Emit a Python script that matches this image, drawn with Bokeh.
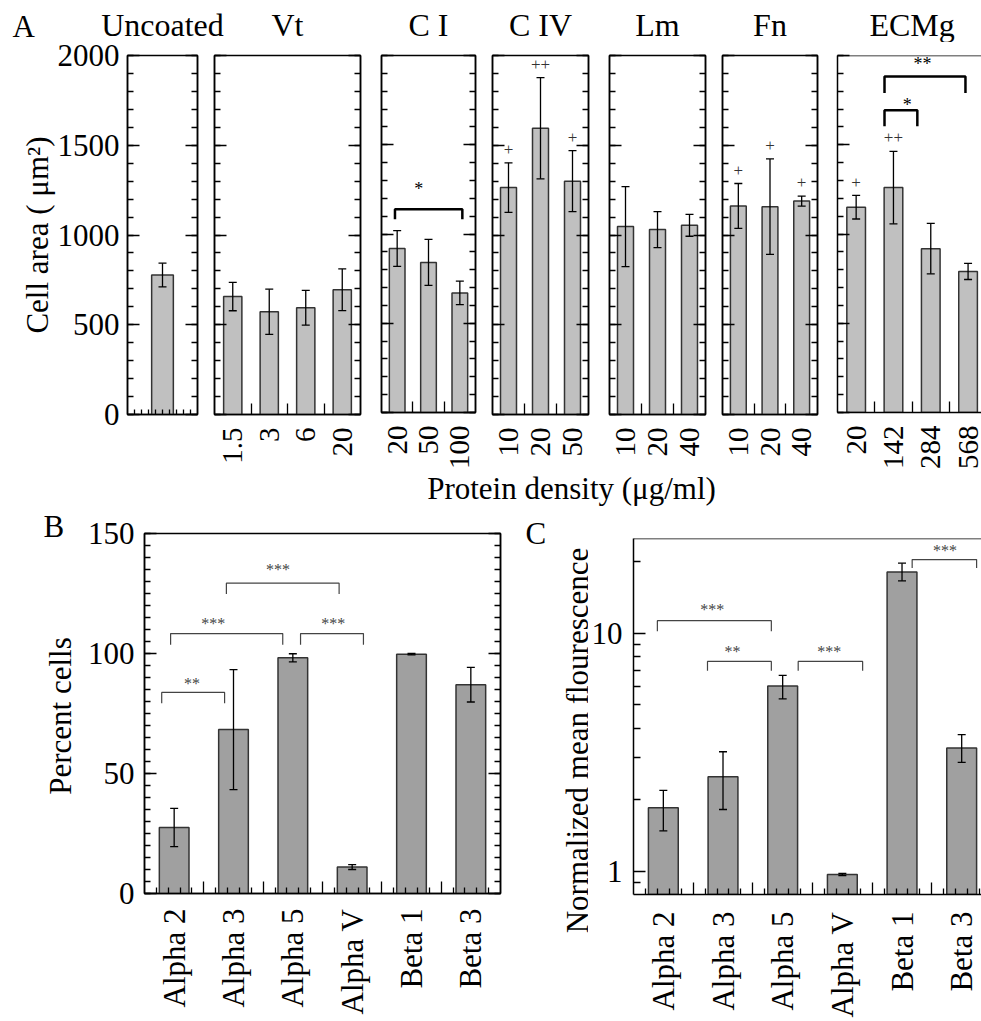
import math

from bokeh.core.properties import value
from bokeh.embed import file_html
from bokeh.layouts import column, row
from bokeh.models import (BasicTickFormatter, ColumnDataSource, CustomJSTickFormatter,
                          FixedTicker, LinearAxis, LogAxis, Range1d,
                          SingleIntervalTicker, Span, TeeHead, Whisker)
from bokeh.plotting import figure
from bokeh.resources import INLINE

FONT = "Liberation Serif"

# ---------------- Panel A: cell area on each coating ----------------
coatings = ["Uncoated", "Vt", "C I", "C IV", "Lm", "Fn", "ECMg"]

uncoated_area = [777]
uncoated_err = [66]

vt_labels = ["1.5", "3", "6", "20"]
vt_area = [657, 572, 595, 695]
vt_err = [79, 126, 97, 116]

ci_labels = ["20", "50", "100"]
ci_area = [919, 841, 670]
ci_err = [100, 129, 66]

civ_labels = ["10", "20", "50"]
civ_area = [1264, 1595, 1300]
civ_err = [138, 282, 170]
civ_marks = ["+", "++", "+"]

lm_labels = ["10", "20", "40"]
lm_area = [1047, 1030, 1054]
lm_err = [223, 100, 61]

fn_labels = ["10", "20", "40"]
fn_area = [1162, 1158, 1189]
fn_err = [125, 266, 28]
fn_marks = ["+", "+", "+"]

ecm_labels = ["20", "142", "284", "568"]
ecm_area = [1150, 1260, 918, 790]
ecm_err = [66, 203, 141, 45]
ecm_marks = ["+", "++", "", ""]

# ---------------- Panels B and C: integrin expression ----------------
integrins = ["Alpha 2", "Alpha 3", "Alpha 5", "Alpha V", "Beta 1", "Beta 3"]
percent_cells = [27.5, 68.3, 98.2, 11.0, 99.7, 87.0]
percent_err = [8.0, 25.0, 1.7, 1.0, 0.3, 7.2]

fluor_mean = [1.85, 2.5, 6.0, 0.97, 18.1, 3.3]
fluor_low = [1.48, 1.82, 5.3, 0.96, 16.6, 2.87]
fluor_high = [2.19, 3.18, 6.66, 0.98, 19.7, 3.75]

# significance brackets: (x start, x end, bar height, end height, text, text x, text y)
ci_brackets = [(-0.07, 2.08, 1139, 1083, "*", 0.69, 1250)]
ecm_brackets = [(0.76, 1.64, 1693, 1604, "*", 1.37, 1721),
                (0.76, 2.93, 1883, 1790, "**", 1.78, 1950)]
b_brackets = [(0.29, 1.35, 83.8, 79.3, "**", 0.80, 87.5),
              (0.44, 2.33, 108.3, 103.6, "***", 1.16, 112.5),
              (2.63, 3.69, 108.3, 103.6, "***", 3.18, 112.5),
              (1.38, 3.28, 129.3, 124.8, "***", 2.25, 135.0)]
c_brackets = [(0.40, 2.31, 11.3, 10.2, "***", 1.32, 12.6),
              (1.24, 2.31, 7.62, 6.96, "**", 1.66, 8.4),
              (2.76, 3.84, 7.62, 6.96, "***", 3.28, 8.4),
              (4.67, 5.75, 20.4, 18.8, "***", 5.22, 22.3)]

BLANK = CustomJSTickFormatter(code="return '';")
UPRIGHT = math.pi / 2


def base_figure(width, height, x_range, y_range, left, right, top, bottom, **kw):
    p = figure(width=width, height=height, x_range=x_range, y_range=y_range,
               x_axis_location=None, y_axis_location=None, toolbar_location=None,
               output_backend="svg", title=None, frame_align=False,
               min_border_left=left, min_border_right=right,
               min_border_top=top, min_border_bottom=bottom, **kw)
    p.grid.grid_line_color = None
    p.outline_line_color = "black"
    p.outline_line_width = 1.5
    p.background_fill_color = "white"
    p.border_fill_color = "white"
    return p


def text_strip(width, height):
    """A blank figure whose data units are pixels, used for free-standing texts."""
    p = figure(width=width, height=height, x_range=Range1d(0, width),
               y_range=Range1d(0, height), x_axis_location=None, y_axis_location=None,
               toolbar_location=None, output_backend="svg", title=None, min_border=0,
               frame_align=False)
    p.grid.grid_line_color = None
    p.outline_line_color = None
    p.background_fill_color = "white"
    p.border_fill_color = "white"
    return p


def put_text(p, xs, ys, texts, size="31px", align="left", angle=0.0):
    p.text(x=xs, y=ys, text=texts, angle=angle, text_font=value(FONT),
           text_font_size=size, text_align=align, text_baseline="middle",
           text_color="black")


def tick_axis(cls, ticker, major_in, minor_in, labels=False, size="31px", standoff=8,
              formatter=None, orientation="horizontal", line=True):
    ax = cls(ticker=ticker, major_tick_in=major_in, major_tick_out=0,
             minor_tick_in=minor_in, minor_tick_out=0,
             major_tick_line_width=1.3, minor_tick_line_width=1.3,
             major_tick_line_color="black" if major_in else None,
             minor_tick_line_color="black" if minor_in else None,
             axis_line_width=1.5, axis_line_color="black" if line else None,
             major_label_orientation=orientation)
    if labels:
        if formatter is not None:
            ax.formatter = formatter
        ax.major_label_text_font = FONT
        ax.major_label_text_font_size = size
        ax.major_label_text_color = "black"
        ax.major_label_standoff = standoff
    else:
        ax.formatter = BLANK
        ax.major_label_text_font_size = "1px"
        ax.major_label_standoff = 0
    return ax


def draw_brackets(p, brackets, width, color, size):
    for x0, x1, ytop, yend, txt, tx, ty in brackets:
        p.multi_line(xs=[[x0, x0, x1, x1]], ys=[[yend, ytop, ytop, yend]],
                     line_color=color, line_width=width)
        p.text(x=[tx], y=[ty], text=[txt], text_font=value(FONT), text_font_size=size,
               text_align="center", text_baseline="middle", text_color=color)


def error_bars(p, src, lower, upper):
    p.add_layout(Whisker(source=src, base="x", lower=lower, upper=upper,
                         line_color="black", line_width=1.3, level="annotation",
                         upper_head=TeeHead(size=8, line_width=1.3, line_color="black"),
                         lower_head=TeeHead(size=8, line_width=1.3, line_color="black")))


HEAD_H = 42
ROW_A_H = 430
FOOT_H = 36
ROW_B_H = 512


def area_panel(labels, area, err, width, left, right, marks=None, brackets=(),
               x_end=None, first=False, bar_width=0.5, cut_right=False):
    n = len(area)
    xs = list(range(n))
    end = x_end if x_end else n - 0.5
    p = base_figure(width, ROW_A_H, Range1d(-0.5, end), Range1d(0, 2000),
                    left, right, 13, 58)

    y_ticker = SingleIntervalTicker(interval=500, num_minor_ticks=5)
    yl = tick_axis(LinearAxis, y_ticker, 12, 6, labels=first, standoff=8)
    if first:
        yl.axis_label = "Cell area ( μm²)"
        yl.axis_label_text_font = FONT
        yl.axis_label_text_font_size = "31px"
        yl.axis_label_text_font_style = "normal"
        yl.axis_label_text_color = "black"
        yl.axis_label_standoff = 0
    p.add_layout(yl, "left")
    if cut_right:
        p.outline_line_color = None
        p.add_layout(Span(location=2000, dimension="width", line_color="black",
                          line_width=1.5))
    else:
        p.add_layout(tick_axis(LinearAxis, y_ticker, 12, 6), "right")

    if labels is None:
        xt = FixedTicker(ticks=[], minor_ticks=[k / 10 for k in range(-4, 5)])
        xb = tick_axis(LinearAxis, xt, 0, 5)
    else:
        xt = FixedTicker(ticks=xs, minor_ticks=[k + 0.5 for k in range(n - 1)])
        fmt = CustomJSTickFormatter(args=dict(names=labels),
                                    code="const s = names[Math.round(tick)]; return s == null ? '' : s;")
        xb = tick_axis(LinearAxis, xt, 0, 11, labels=True, size="29px", standoff=13,
                       formatter=fmt, orientation=UPRIGHT)
    p.add_layout(xb, "below")

    src = ColumnDataSource(dict(x=xs, top=area,
                                lo=[a - e for a, e in zip(area, err)],
                                hi=[a + e for a, e in zip(area, err)]))
    p.vbar(x="x", top="top", bottom=0, width=bar_width, source=src,
           fill_color="#c0c0c0", line_color="#333333", line_width=1.5)
    error_bars(p, src, "lo", "hi")
    if marks:
        p.text(x=xs, y=[a + e + 75 for a, e in zip(area, err)], text=marks,
               text_font=value(FONT), text_font_size="17px", text_align="center",
               text_baseline="middle", text_color="#333333")
    draw_brackets(p, brackets, 2.5, "black", "18px")

    # horizontal position of the middle of the panel's categories in the figure
    frame = width - left - right
    centre = left + frame * (((n - 1) / 2 + 0.5) / (end + 0.5))
    return p, centre


specs = [
    dict(labels=None, area=uncoated_area, err=uncoated_err, width=205, left=127, right=8,
         first=True, bar_width=0.31),
    dict(labels=vt_labels, area=vt_area, err=vt_err, width=165, left=9, right=10),
    dict(labels=ci_labels, area=ci_area, err=ci_err, width=113, left=11, right=8,
         brackets=ci_brackets),
    dict(labels=civ_labels, area=civ_area, err=civ_err, width=115, left=9, right=10,
         marks=civ_marks),
    dict(labels=lm_labels, area=lm_area, err=lm_err, width=115, left=11, right=8),
    dict(labels=fn_labels, area=fn_area, err=fn_err, width=114, left=9, right=10,
         marks=fn_marks),
    dict(labels=ecm_labels, area=ecm_area, err=ecm_err, width=154, left=10, right=0,
         marks=ecm_marks, brackets=ecm_brackets, x_end=3.36, cut_right=True),
]

panels_a = []
title_x = []
offset = 0
for spec in specs:
    p, centre = area_panel(**spec)
    panels_a.append(p)
    title_x.append(offset + centre)
    offset += spec["width"]

# panel letter and coating names above panel A
head = text_strip(981, HEAD_H)
put_text(head, [12], [HEAD_H - 26], ["A"])
put_text(head, title_x, [HEAD_H - 24] * len(coatings), coatings, size="32px",
         align="center")

# shared x-axis title of panel A
foot = text_strip(981, FOOT_H)
put_text(foot, [571], [FOOT_H - 16], ["Protein density (μg/ml)"], align="center")

centers = [k + 0.5 for k in range(len(integrins))]
fine = [k / 5 for k in range(1, 30) if k % 5]
name_fmt = CustomJSTickFormatter(args=dict(names=integrins),
                                 code="const s = names[Math.floor(tick)]; return s == null ? '' : s;")


def integrin_axes(p, standoff):
    p.add_layout(tick_axis(LinearAxis, FixedTicker(ticks=[1, 2, 3, 4, 5], minor_ticks=fine),
                           12, 6), "below")
    p.add_layout(tick_axis(LinearAxis, FixedTicker(ticks=centers), 0, 0, labels=True,
                           size="31px", standoff=standoff, formatter=name_fmt,
                           orientation=UPRIGHT, line=False), "below")


# ---------------- Panel B ----------------
side_b = text_strip(80, ROW_B_H)
put_text(side_b, [43], [ROW_B_H - 17.5], ["B"])
put_text(side_b, [60], [ROW_B_H - 207.5], ["Percent cells"], align="center", angle=UPRIGHT)

pb = base_figure(428, ROW_B_H, Range1d(0, 6), Range1d(0, 150), 64, 8, 25, 127)
yb_ticker = SingleIntervalTicker(interval=50, num_minor_ticks=10)
pb.add_layout(tick_axis(LinearAxis, yb_ticker, 12, 6, labels=True, standoff=10), "left")
pb.add_layout(tick_axis(LinearAxis, yb_ticker, 12, 6), "right")
integrin_axes(pb, 15)
src_b = ColumnDataSource(dict(x=centers, top=percent_cells,
                              lo=[m - e for m, e in zip(percent_cells, percent_err)],
                              hi=[m + e for m, e in zip(percent_cells, percent_err)]))
pb.vbar(x="x", top="top", bottom=0, width=0.5, source=src_b, fill_color="#a0a0a0",
        line_color="#333333", line_width=1.5)
error_bars(pb, src_b, "lo", "hi")
draw_brackets(pb, b_brackets, 1.2, "#444444", "16px")

# ---------------- Panel C ----------------
side_c = text_strip(80, ROW_B_H)
put_text(side_c, [17], [ROW_B_H - 24.5], ["C"])
put_text(side_c, [69], [ROW_B_H - 232], ["Normalized mean flourescence"], align="center",
         angle=UPRIGHT)

pc = base_figure(393, ROW_B_H, Range1d(0, 5.832), Range1d(0.8, 25), 45, 0, 30, 124,
                 y_axis_type="log")
pc.outline_line_color = None
pc.add_layout(Span(location=25, dimension="width", line_color="black", line_width=1.5))
yc = tick_axis(LogAxis, FixedTicker(ticks=[1, 10], minor_ticks=[0.9, 2, 3, 4, 5, 6, 7, 8, 9, 20]),
               12, 7, labels=True, standoff=11, formatter=BasicTickFormatter())
pc.add_layout(yc, "left")
integrin_axes(pc, 17)
src_c = ColumnDataSource(dict(x=centers, top=fluor_mean, lo=fluor_low, hi=fluor_high))
pc.vbar(x="x", top="top", bottom=0.1, width=0.5, source=src_c, fill_color="#a0a0a0",
        line_color="#333333", line_width=1.5)
error_bars(pc, src_c, "lo", "hi")
draw_brackets(pc, c_brackets, 1.2, "#444444", "16px")

layout = column(head, row(*panels_a), foot, row(side_b, pb, side_c, pc))

with open("out.html", "w") as f:
    f.write(file_html(layout, INLINE))
